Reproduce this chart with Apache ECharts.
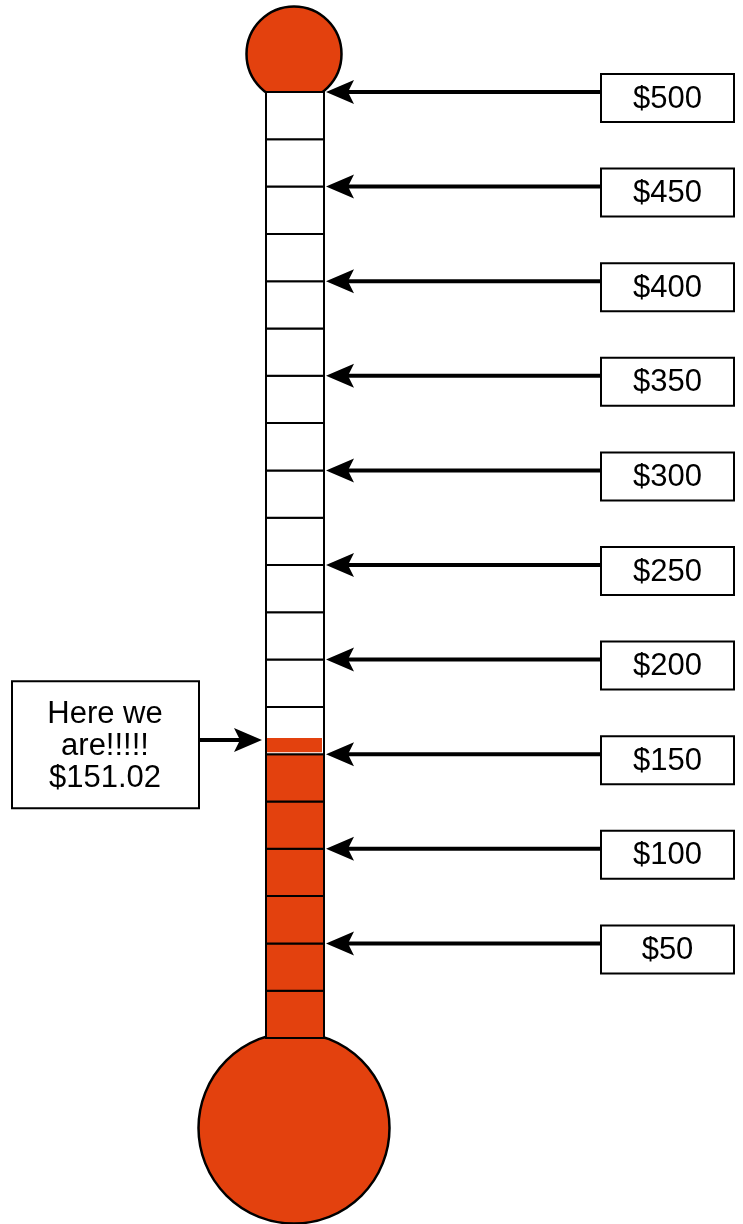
<!DOCTYPE html>
<html>
<head>
<meta charset="utf-8">
<script src="https://cdn.jsdelivr.net/npm/echarts@6/dist/echarts.min.js"></script>
<style>
  html, body { margin: 0; padding: 0; background: #fff; }
  #chart { width: 743px; height: 1224px; }
</style>
</head>
<body>
<div id="chart"></div>
<script>
// ── 数据 ────────────────────────────────────────────────────────────────
const tickValues = [50, 100, 150, 200, 250, 300, 350, 400, 450, 500];
const tickLabels = ['$50', '$100', '$150', '$200', '$250', '$300', '$350', '$400', '$450', '$500'];
// 温度计刻度格（每格 $25）
const segmentEdges = [0, 25, 50, 75, 100, 125, 150, 175, 200, 225, 250,
  275, 300, 325, 350, 375, 400, 425, 450, 475, 500];
const currentAmount = 151.02;
const currentBandTop = 158.5;           // 当前位置那条红色细条的上沿
const currentLabel = ['Here we', 'are!!!!!', '$151.02'];
const bulbValues = [0, 500];            // 底部 / 顶部 球泡挂在哪个值上

// ── 版式（像素） ─────────────────────────────────────────────────────────
const RED = '#E3410E';
const FONT = '31px "Liberation Sans", Arial, Helvetica, sans-serif';
const TUBE_L = 266, TUBE_R = 324, TUBE_CX = 295;
const BOX_L = 601, BOX_W = 133, BOX_H = 48;
const HEAD_LEN = 22, HEAD_HALF = 12;

const chart = echarts.init(document.getElementById('chart'), null, { renderer: 'canvas' });

function arrow(x0, x1, y, dir) {
  // dir = -1 指向左，1 指向右；x1 为箭头尖
  const base = x1 - dir * HEAD_LEN;
  return [
    { type: 'line', shape: { x1: x0, y1: y, x2: base + dir * 2, y2: y },
      style: { stroke: '#000', lineWidth: 4 } },
    { type: 'polygon', shape: { points: [[x1, y], [base - dir * 6, y - HEAD_HALF], [base, y], [base - dir * 6, y + HEAD_HALF]] },
      style: { fill: '#000' } }
  ];
}

const option = {
  animation: false,
  backgroundColor: '#fff',
  grid: { left: 0, right: 0, top: 92, bottom: 186 },
  xAxis: { type: 'value', min: 0, max: 743, show: false },
  yAxis: { type: 'value', min: 0, max: 500, show: false },
  series: [
    {
      // 球泡
      type: 'custom', clip: false, z: 1,
      data: bulbValues.map(v => [TUBE_CX, v]),
      renderItem(params, api) {
        const v = api.value(1);
        const p = api.coord([TUBE_CX, v]);
        const isTop = v === 500;
        const r = isTop ? 47.5 : 95.5;
        const cy = isTop ? p[1] - 38 : p[1] + 90;
        return { type: 'circle', shape: { cx: TUBE_CX - 1, cy, r },
          style: { fill: RED, stroke: '#000', lineWidth: 2.5 } };
      }
    },
    {
      // 管身格子
      type: 'custom', clip: false, z: 2,
      data: segmentEdges.slice(0, -1).map((lo, i) => [lo, segmentEdges[i + 1]]),
      renderItem(params, api) {
        const lo = api.value(0), hi = api.value(1);
        const p1 = api.coord([TUBE_L, hi]);
        const p2 = api.coord([TUBE_R, lo]);
        return { type: 'rect',
          shape: { x: p1[0], y: p1[1], width: p2[0] - p1[0], height: p2[1] - p1[1] },
          style: { fill: hi <= currentAmount ? RED : '#fff', stroke: '#000', lineWidth: 2 } };
      }
    },
    {
      // 右侧刻度箭头 + 标签框
      type: 'custom', clip: false, z: 3,
      data: tickValues.map(v => [BOX_L, v]),
      renderItem(params, api) {
        const y = api.coord([0, api.value(1)])[1];
        const label = tickLabels[params.dataIndex];
        return { type: 'group', children: [
          ...arrow(BOX_L, TUBE_R + 2, y, -1),
          { type: 'rect', shape: { x: BOX_L, y: y - 18, width: BOX_W, height: BOX_H },
            style: { fill: '#fff', stroke: '#000', lineWidth: 2 } },
          { type: 'text', style: { text: label, x: BOX_L + BOX_W / 2, y: y + 7,
            align: 'center', verticalAlign: 'middle', font: FONT, fill: '#000' } }
        ] };
      }
    },
    {
      // 当前位置
      type: 'custom', clip: false, z: 4,
      data: [[currentAmount, currentBandTop]],
      renderItem(params, api) {
        const pLo = api.coord([TUBE_L, api.value(0)]);
        const pHi = api.coord([TUBE_R, api.value(1)]);
        const yMid = (pLo[1] + pHi[1]) / 2;
        const texts = currentLabel.map((t, i) => ({
          type: 'text', style: { text: t, x: 105, y: yMid + 1 + (i - 1) * 32,
            align: 'center', verticalAlign: 'middle', font: FONT, fill: '#000' } }));
        return { type: 'group', children: [
          { type: 'rect', shape: { x: pLo[0] + 1, y: pHi[1], width: pHi[0] - pLo[0] - 3, height: pLo[1] - pHi[1] },
            style: { fill: RED } },
          ...arrow(188, TUBE_L - 4, pHi[1] + 2, 1),
          { type: 'rect', shape: { x: 12, y: yMid - 64, width: 187, height: 127 },
            style: { fill: '#fff', stroke: '#000', lineWidth: 2 } },
          ...texts
        ] };
      }
    }
  ]
};

chart.setOption(option);
</script>
</body>
</html>
